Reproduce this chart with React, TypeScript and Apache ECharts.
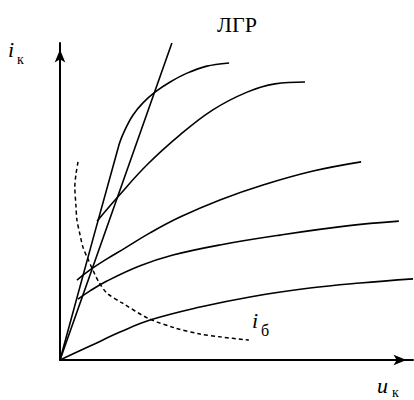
import React, { useEffect, useRef } from "react";
import * as echarts from "echarts";

// Axis ranges (relative units, 0..100 on both axes)
const uMax = 100;
const iMax = 100;

// Boundary-mode line (ЛГР): straight from the origin
const lgrLine: [number, number][] = [
  [0, 0],
  [31.7, 100],
];

// Steep characteristic: straight rise, then bending over
const steepCurve: [number, number][] = [
  [0, 0],
  [16.7, 67.8],
  [18.4, 72.6],
  [20.7, 77.3],
  [23.5, 81.1],
  [26.9, 84.5],
  [31.2, 87.7],
  [36.0, 90.5],
  [41.6, 92.7],
  [47.9, 93.7],
];

// Family of output characteristics, top to bottom
const curveA: [number, number][] = [
  [10.5, 43.8],
  [16.1, 51.1],
  [24.6, 61.5],
  [34.0, 71.0],
  [43.3, 78.9],
  [53.0, 84.5],
  [60.9, 87.1],
  [69.4, 87.7],
];

const curveB: [number, number][] = [
  [4.8, 25.2],
  [8.5, 28.4],
  [13.3, 31.9],
  [18.4, 35.3],
  [25.5, 40.1],
  [34.0, 45.1],
  [45.3, 50.5],
  [57.5, 55.2],
  [71.7, 59.6],
  [85.3, 62.5],
];

const curveC: [number, number][] = [
  [5.1, 19.2],
  [8.5, 21.8],
  [13.3, 24.9],
  [22.7, 29.7],
  [32.0, 33.1],
  [45.3, 36.3],
  [62.3, 39.4],
  [81.3, 42.3],
  [96.0, 43.8],
];

const curveD: [number, number][] = [
  [0, 0],
  [4.2, 2.2],
  [8.5, 4.4],
  [17.0, 8.8],
  [25.5, 12.6],
  [39.7, 16.7],
  [53.8, 19.9],
  [70.8, 22.7],
  [85.0, 24.3],
  [100, 25.6],
];

// Dashed base-current curve (i_б)
const baseCurve: [number, number][] = [
  [5.1, 62.5],
  [4.5, 58.4],
  [4.2, 54.6],
  [4.5, 48.9],
  [4.8, 44.2],
  [5.7, 39.4],
  [6.5, 35.6],
  [7.9, 31.9],
  [9.3, 28.4],
  [11.0, 24.6],
  [13.3, 21.1],
  [17.6, 18.0],
  [24.9, 13.2],
  [32.6, 10.1],
  [39.7, 8.2],
  [45.3, 7.3],
  [53.5, 6.3],
];

const SERIF = '"Liberation Serif", "Times New Roman", serif';

function solid(data: [number, number][], smooth: number | boolean = 0.4) {
  return {
    type: "line",
    data,
    showSymbol: false,
    smooth,
    clip: false,
    silent: true,
    lineStyle: { color: "#000", width: 1.6 },
  };
}

function label(text: string, x: number, y: number, font: string) {
  return {
    type: "text",
    x,
    y,
    style: {
      text,
      font,
      fill: "#000",
      textAlign: "left",
      textVerticalAlign: "middle",
    },
  };
}

export default function App() {
  const ref = useRef<HTMLDivElement>(null);

  useEffect(() => {
    if (!ref.current) return;
    const chart = echarts.init(ref.current, null, { renderer: "svg" });

    const axisLine = {
      show: true,
      symbol: ["none", "arrow"],
      symbolSize: [8, 13],
      symbolOffset: [0, -6.5],
      lineStyle: { color: "#000", width: 2 },
    };

    chart.setOption({
      animation: false,
      backgroundColor: "#fff",
      grid: { left: 60, right: 1, top: 43, bottom: 40 },
      xAxis: {
        type: "value",
        min: 0,
        max: uMax,
        axisLine,
        axisTick: { show: false },
        axisLabel: { show: false },
        splitLine: { show: false },
      },
      yAxis: {
        type: "value",
        min: 0,
        max: iMax,
        axisLine,
        axisTick: { show: false },
        axisLabel: { show: false },
        splitLine: { show: false },
      },
      series: [
        solid(lgrLine, false),
        solid(steepCurve, 0.3),
        solid(curveA),
        solid(curveB),
        solid(curveC),
        solid(curveD),
        {
          type: "line",
          data: baseCurve,
          showSymbol: false,
          smooth: 0.3,
          silent: true,
          lineStyle: { color: "#000", width: 1.5, type: [4, 3] },
        },
      ],
      graphic: [
        {
          type: "text",
          x: 237,
          y: 24,
          style: {
            text: "ЛГР",
            font: `22px ${SERIF}`,
            fill: "#000",
            textAlign: "center",
            textVerticalAlign: "middle",
          },
        },
        label("i", 8, 49, `italic 22px ${SERIF}`),
        label("к", 17, 59, `14px ${SERIF}`),
        label("u", 377, 385, `italic 22px ${SERIF}`),
        label("к", 392, 392, `14px ${SERIF}`),
        label("i", 252, 320, `italic 22px ${SERIF}`),
        label("б", 261, 330, `16px ${SERIF}`),
      ],
    });

    return () => chart.dispose();
  }, []);

  return (
    <div
      ref={ref}
      style={{ position: "fixed", left: 0, top: 0, width: 414, height: 400 }}
    />
  );
}
